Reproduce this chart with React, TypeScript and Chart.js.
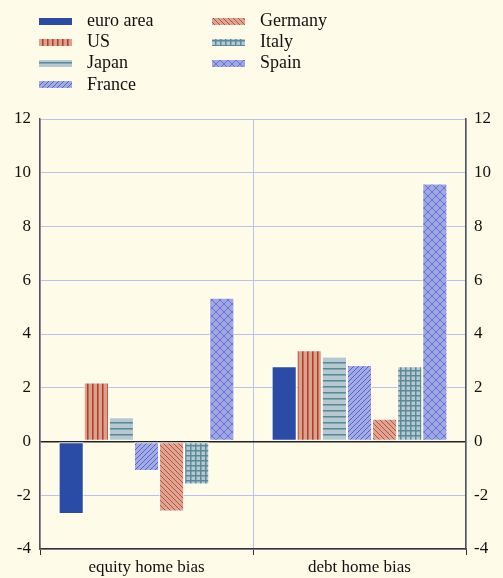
import React, { useEffect, useRef } from 'react';
import { Chart, registerables } from 'chart.js';

Chart.register(...registerables);

const categories = ['equity home bias', 'debt home bias'];
const seriesNames = ['euro area', 'US', 'Japan', 'France', 'Germany', 'Italy', 'Spain'];
const euroArea = [-2.7, 2.8];
const us = [2.2, 3.4];
const japan = [0.9, 3.15];
const france = [-1.1, 2.85];
const germany = [-2.6, 0.85];
const italy = [-1.6, 2.8];
const spain = [5.35, 9.6];
const yMin = -4;
const yMax = 12;
const yStep = 2;

const BG = '#FEFCE8';
const FONT = '"Liberation Serif", "Times New Roman", serif';

function tile(w: number, h: number, draw: (c: CanvasRenderingContext2D) => void): CanvasPattern | string {
  const cv = document.createElement('canvas');
  cv.width = w;
  cv.height = h;
  const c = cv.getContext('2d')!;
  draw(c);
  const p = c.createPattern(cv, 'repeat');
  return p || '#888';
}

function makeFills() {
  const euro = '#2A4BA6';
  const usP = tile(5, 5, (c) => {
    c.fillStyle = '#D9A28C';
    c.fillRect(0, 0, 5, 5);
    c.fillStyle = '#B63C2A';
    c.fillRect(2, 0, 1, 5);
    c.fillStyle = 'rgba(182,60,42,0.55)';
    c.fillRect(3, 0, 1, 5);
  });
  const jpP = tile(6, 6, (c) => {
    c.fillStyle = '#B6C8D0';
    c.fillRect(0, 0, 6, 6);
    c.fillStyle = '#5A8A9A';
    c.fillRect(0, 2, 6, 1);
    c.fillStyle = 'rgba(90,138,154,0.55)';
    c.fillRect(0, 3, 6, 1);
  });
  const frP = tile(5, 5, (c) => {
    c.fillStyle = '#A4AAE3';
    c.fillRect(0, 0, 5, 5);
    c.strokeStyle = '#4A5CC8';
    c.lineWidth = 0.9;
    c.beginPath();
    c.moveTo(-1, 6); c.lineTo(6, -1);
    c.moveTo(-1, 1); c.lineTo(1, -1);
    c.moveTo(4, 6); c.lineTo(6, 4);
    c.stroke();
  });
  const deP = tile(5, 5, (c) => {
    c.fillStyle = '#DCA690';
    c.fillRect(0, 0, 5, 5);
    c.strokeStyle = '#C0403A';
    c.lineWidth = 0.9;
    c.beginPath();
    c.moveTo(-1, -1); c.lineTo(6, 6);
    c.moveTo(4, -1); c.lineTo(6, 1);
    c.moveTo(-1, 4); c.lineTo(1, 6);
    c.stroke();
  });
  const itP = tile(5, 5, (c) => {
    c.fillStyle = '#B6C8D0';
    c.fillRect(0, 0, 5, 5);
    c.fillStyle = 'rgba(90,138,154,0.5)';
    c.fillRect(0, 1, 5, 1);
    c.fillRect(1, 0, 1, 5);
    c.fillStyle = '#5A8A9A';
    c.fillRect(0, 0, 5, 1);
    c.fillRect(0, 0, 1, 5);
  });
  const esP = tile(8, 8, (c) => {
    c.fillStyle = '#A0A7E2';
    c.fillRect(0, 0, 8, 8);
    c.strokeStyle = '#5E6FD0';
    c.lineWidth = 0.9;
    c.beginPath();
    c.moveTo(0, 0); c.lineTo(8, 8);
    c.moveTo(8, 0); c.lineTo(0, 8);
    c.stroke();
  });
  return [euro, usP, jpP, frP, deP, itP, esP];
}

const legendPlugin = {
  id: 'customLegend',
  beforeDraw(chart: any) {
    const ctx = chart.ctx;
    ctx.save();
    ctx.fillStyle = BG;
    ctx.fillRect(0, 0, chart.width, chart.height);
    ctx.restore();
  },
  afterDraw(chart: any) {
    const ctx = chart.ctx;
    ctx.save();
    const ds = chart.data.datasets;
    ds.forEach((d: any, i: number) => {
      const col = i < 4 ? 0 : 1;
      const row = i < 4 ? i : i - 4;
      const bx = col === 0 ? 39 : 212;
      const tx = col === 0 ? 87 : 260;
      const cy = 21 + row * 21.3;
      ctx.fillStyle = d.backgroundColor;
      ctx.fillRect(bx, Math.round(cy - 3.5), 33, 7);
      ctx.fillStyle = '#111';
      ctx.font = `18px ${FONT}`;
      ctx.textBaseline = 'middle';
      ctx.textAlign = 'left';
      ctx.fillText(d.label, tx, cy);
    });
    ctx.restore();
  },
};

export default function App() {
  const ref = useRef<HTMLCanvasElement>(null);
  useEffect(() => {
    document.body.style.margin = '0';
    const fills = makeFills();
    const values = [euroArea, us, japan, france, germany, italy, spain];
    const gridColor = (c: any) => (c.tick && c.tick.value === 0 ? '#222' : '#BCC0EC');
    const chart = new Chart(ref.current!, {
      type: 'bar',
      data: {
        labels: categories,
        datasets: seriesNames.map((name, i) => ({
          label: name,
          data: values[i],
          backgroundColor: fills[i] as any,
          borderColor: 'rgba(255,255,255,0.75)',
          borderWidth: 1,
          borderSkipped: false,
          categoryPercentage: 0.825,
          barPercentage: 1,
          yAxisID: 'y',
        })),
      },
      options: {
        responsive: false,
        animation: false,
        layout: { padding: { top: 119, left: 0, right: 0, bottom: 0 } },
        plugins: { legend: { display: false }, tooltip: { enabled: false } },
        scales: {
          x: {
            grid: {
              color: '#BCC0EC',
              tickColor: '#333',
              tickLength: 6,
              offset: true,
            },
            border: { color: '#333', width: 1.5 },
            ticks: { color: '#111', font: { family: FONT, size: 17 }, padding: 2 },
            afterFit: (s: any) => { s.height = 29; },
          },
          y: {
            min: yMin,
            max: yMax,
            ticks: { stepSize: yStep, color: '#111', font: { family: FONT, size: 17 }, padding: 9 },
            grid: { color: gridColor, lineWidth: (c: any) => (c.tick && c.tick.value === 0 ? 1.5 : 1), drawTicks: false },
            border: { color: '#555', width: 1.5 },
            afterFit: (s: any) => { s.width = 40; },
          },
          y2: {
            position: 'right',
            min: yMin,
            max: yMax,
            ticks: { stepSize: yStep, color: '#111', font: { family: FONT, size: 17 }, padding: 8 },
            grid: { drawOnChartArea: false, drawTicks: false },
            border: { color: '#555', width: 1.5 },
            afterFit: (s: any) => { s.width = 37; },
          },
        },
      },
      plugins: [legendPlugin],
    });
    return () => chart.destroy();
  }, []);
  return (
    <div style={{ width: 503, height: 578, background: BG }}>
      <canvas ref={ref} width={503} height={578} style={{ display: 'block' }} />
    </div>
  );
}
